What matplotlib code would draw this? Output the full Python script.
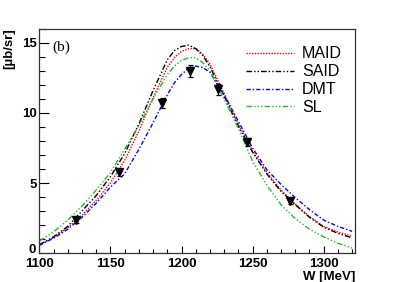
import matplotlib
matplotlib.use("Agg")
import matplotlib.pyplot as plt
from matplotlib.ticker import MultipleLocator, FixedFormatter, FixedLocator

# ---- data ----
W = [1100, 1110, 1120, 1130, 1140, 1150, 1160, 1170, 1180, 1190, 1195, 1200, 1205, 1210,
     1215, 1220, 1230, 1240, 1250, 1260, 1270, 1280, 1290, 1300, 1310, 1320]
maid = [0.55, 1.10, 1.80, 2.70, 3.75, 5.00, 6.60, 8.70, 11.10, 13.25, 13.95, 14.40, 14.60, 14.60,
        14.20, 13.50, 11.40, 9.20, 7.30, 5.75, 4.50, 3.50, 2.60, 1.90, 1.50, 1.20]
said = [0.60, 1.15, 1.90, 3.00, 4.10, 5.45, 7.10, 9.20, 11.60, 13.80, 14.45, 14.75, 14.85, 14.60,
        14.10, 13.30, 11.20, 9.05, 7.20, 5.65, 4.40, 3.45, 2.55, 1.85, 1.40, 1.08]
dmt = [0.55, 1.05, 1.70, 2.55, 3.55, 4.70, 5.65, 7.40, 9.30, 11.30, 12.15, 12.75, 13.20, 13.35,
       13.25, 12.90, 11.30, 9.40, 7.50, 5.95, 4.90, 3.95, 3.10, 2.35, 1.90, 1.55]
sl = [0.85, 1.50, 2.35, 3.35, 4.50, 5.75, 7.40, 9.10, 11.00, 12.75, 13.35, 13.75, 13.95, 13.95,
      13.60, 13.00, 11.00, 8.90, 6.55, 4.85, 3.45, 2.45, 1.70, 1.15, 0.70, 0.35]

data_W = [1126, 1156, 1186, 1206, 1226, 1246, 1276]
data_v = [2.35, 5.78, 10.72, 13.00, 11.68, 7.94, 3.73]
data_err = [0.20, 0.25, 0.35, 0.45, 0.40, 0.30, 0.20]

labels = ["MAID", "SAID", "DMT", "SL"]
yticks = [5, 10, 15]
ytick_labels = ["5", "10", "15"]

# ---- figure ----
fig = plt.figure(figsize=(3.95, 2.82), dpi=100)
ax = fig.add_axes([0.0995, 0.1028, 0.7992, 0.7944])

lw = 1.0
ax.plot(W, maid, color="#ff0000", lw=lw, ls=(0, (1, 1)), label=labels[0])
ax.plot(W, said, color="#000000", lw=lw, ls=(0, (4, 1.5, 1, 1.5, 1, 1.5)), label=labels[1])
ax.plot(W, dmt, color="#0000ff", lw=lw, ls=(0, (3, 1.5, 1, 1.5)), label=labels[2])
ax.plot(W, sl, color="#22bb22", lw=lw, ls=(0, (4, 1.5, 1, 1.5, 1, 1.5, 1, 1.5)), label=labels[3])

ax.errorbar(data_W, data_v, yerr=data_err, fmt="v", color="black", ms=5.5,
            elinewidth=0.9, capsize=1.8, capthick=0.9, zorder=5)

ax.set_xlim(1100, 1322)
ax.set_ylim(0, 16)
ax.xaxis.set_major_locator(MultipleLocator(50))
ax.xaxis.set_minor_locator(MultipleLocator(10))
ax.yaxis.set_major_locator(FixedLocator([0] + yticks))
ax.yaxis.set_major_formatter(FixedFormatter([""] + ytick_labels))
ax.yaxis.set_minor_locator(MultipleLocator(1))
ax.tick_params(axis="both", which="both", direction="in", top=False, right=False)
ax.tick_params(axis="y", which="major", length=7, width=0.8, pad=2)
ax.tick_params(axis="y", which="minor", length=4, width=0.8)
ax.tick_params(axis="x", which="major", length=5, width=0.8, pad=3.5)
ax.tick_params(axis="x", which="minor", length=3, width=0.8)
tick_font = dict(family="Liberation Sans", weight="bold", size=9.5)
for lab in ax.get_xticklabels() + ax.get_yticklabels():
    lab.set_fontfamily(tick_font["family"])
    lab.set_fontweight(tick_font["weight"])
    lab.set_fontsize(tick_font["size"])

# the "0" label sits a bit higher, as in the reference
ax.annotate("0", xy=(0, 0), xycoords="axes fraction", xytext=(-2.5, 2.5),
            textcoords="offset points", ha="right", va="center", **tick_font)

for sp in ax.spines.values():
    sp.set_linewidth(0.9)
    sp.set_color("#333333")

ax.set_xlabel("W [MeV]", fontfamily="Liberation Sans", fontweight="bold",
              fontsize=9.5, loc="right", labelpad=0.5)
fig.text(9.5 / 395, 1 - 28 / 282, "[µb/sr]", rotation=90, ha="center", va="top",
         fontfamily="Liberation Sans", fontweight="bold", fontsize=9.5)

ax.text(0.04, 0.95, "(b)", transform=ax.transAxes, fontfamily="Liberation Serif",
        fontsize=11, va="top", ha="left")

leg = ax.legend(loc="upper right", bbox_to_anchor=(0.99, 0.965), frameon=False,
                prop={"family": "Liberation Sans", "size": 11.5}, handlelength=3.0,
                handletextpad=0.5, labelspacing=0.18, borderaxespad=0.2)

fig.savefig("out.png", dpi=100)
